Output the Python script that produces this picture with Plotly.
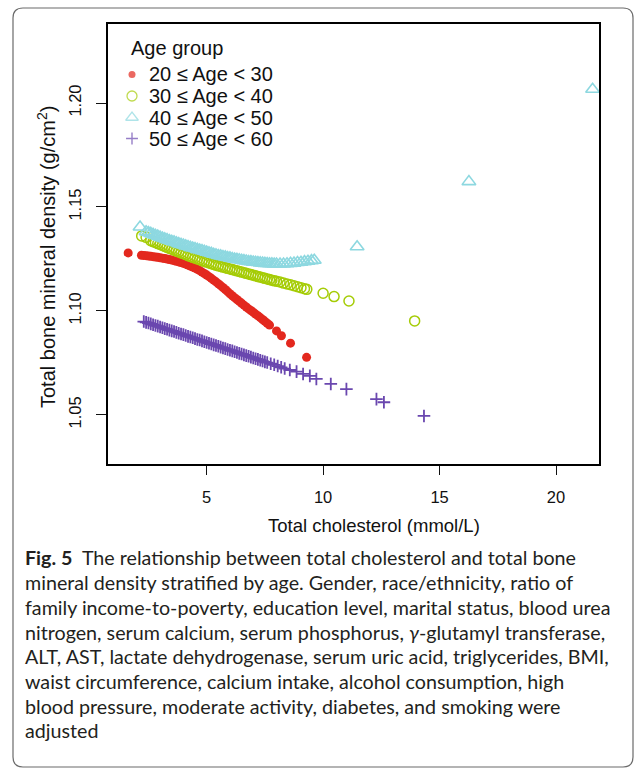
import plotly.graph_objects as go

# ---------------------------------------------------------------- data
groups = ["20 ≤ Age < 30", "30 ≤ Age < 40", "40 ≤ Age < 50", "50 ≤ Age < 60"]

red_x = [1.63, 2.20, 2.30, 2.40, 2.50, 2.60, 2.70, 2.80, 2.90, 3.00, 3.10,
         3.20, 3.30, 3.40, 3.50, 3.60, 3.70, 3.80, 3.90, 4.00, 4.10,
         4.20, 4.30, 4.40, 4.50, 4.60, 4.70, 4.80, 4.90, 5.00, 5.10,
         5.20, 5.30, 5.40, 5.50, 5.60, 5.70, 5.80, 5.90, 6.00, 6.10,
         6.20, 6.30, 6.40, 6.50, 6.60, 6.70, 6.80, 6.90, 7.00, 7.10,
         7.20, 7.30, 7.40, 7.50, 7.60, 7.70, 8.00, 8.21, 8.60, 9.29]
red_y = [1.1279, 1.1268, 1.1267, 1.1266, 1.1264, 1.1263, 1.1261, 1.1259, 1.1258, 1.1256, 1.1254,
         1.1252, 1.1250, 1.1247, 1.1245, 1.1242, 1.1239, 1.1236, 1.1233, 1.1229, 1.1225,
         1.1221, 1.1216, 1.1211, 1.1206, 1.1200, 1.1194, 1.1187, 1.1180, 1.1173, 1.1165,
         1.1157, 1.1148, 1.1140, 1.1131, 1.1122, 1.1113, 1.1103, 1.1093, 1.1083, 1.1073,
         1.1064, 1.1055, 1.1046, 1.1037, 1.1028, 1.1019, 1.1010, 1.1002, 1.0994, 1.0985,
         1.0977, 1.0968, 1.0959, 1.0950, 1.0941, 1.0932, 1.0904, 1.0881, 1.0845, 1.0777]

green_x = [2.21, 2.40,
           2.60, 2.70, 2.80, 2.90, 3.00, 3.10, 3.20, 3.30, 3.40, 3.50,
           3.60, 3.70, 3.80, 3.90, 4.00, 4.10, 4.20, 4.30, 4.40, 4.50,
           4.60, 4.70, 4.80, 4.90, 5.00, 5.10, 5.20, 5.30, 5.40, 5.50,
           5.60, 5.70, 5.80, 5.90, 6.00, 6.10, 6.20, 6.30, 6.40, 6.50,
           6.60, 6.70, 6.80, 6.90, 7.00, 7.10, 7.20, 7.30, 7.40, 7.50,
           7.60, 7.70, 7.80, 7.90, 8.00,
           8.15, 8.30, 8.45, 8.60, 8.75, 8.90, 9.05, 9.20, 9.30,
           10.00, 10.47, 11.11, 13.93]
green_y = [1.1361, 1.1354,
           1.1338, 1.1333, 1.1329, 1.1324, 1.1320, 1.1315, 1.1310, 1.1306, 1.1301, 1.1297,
           1.1292, 1.1288, 1.1284, 1.1279, 1.1275, 1.1271, 1.1266, 1.1262, 1.1258, 1.1254,
           1.1250, 1.1246, 1.1242, 1.1238, 1.1235, 1.1231, 1.1227, 1.1224, 1.1220, 1.1217,
           1.1214, 1.1211, 1.1208, 1.1205, 1.1202, 1.1199, 1.1196, 1.1193, 1.1190, 1.1187,
           1.1184, 1.1181, 1.1178, 1.1175, 1.1172, 1.1169, 1.1166, 1.1163, 1.1160, 1.1157,
           1.1154, 1.1151, 1.1148, 1.1145, 1.1143,
           1.1139, 1.1134, 1.1130, 1.1126, 1.1121, 1.1117, 1.1112, 1.1107, 1.1104,
           1.1085, 1.1069, 1.1048, 1.0952]

cyan_x = [2.14,
          2.40, 2.50, 2.60, 2.70, 2.80, 2.90, 3.00, 3.10, 3.20, 3.30,
          3.40, 3.50, 3.60, 3.70, 3.80, 3.90, 4.00, 4.10, 4.20, 4.30,
          4.40, 4.50, 4.60, 4.70, 4.80, 4.90, 5.00, 5.10, 5.20, 5.30,
          5.40, 5.50, 5.60, 5.70, 5.80, 5.90, 6.00, 6.10, 6.20, 6.30,
          6.40, 6.50, 6.60, 6.70, 6.80, 6.90, 7.00, 7.10, 7.20, 7.30,
          7.40, 7.50, 7.60, 7.70, 7.80, 7.90, 8.00,
          8.15, 8.30, 8.45, 8.60, 8.75, 8.90, 9.05, 9.20, 9.35, 9.50, 9.62,
          11.46, 16.26, 21.57]
cyan_y = [1.1404,
          1.1381, 1.1377, 1.1373, 1.1368, 1.1364, 1.1360, 1.1355, 1.1351, 1.1347, 1.1343,
          1.1339, 1.1335, 1.1332, 1.1328, 1.1324, 1.1320, 1.1317, 1.1313, 1.1310, 1.1306,
          1.1303, 1.1300, 1.1296, 1.1293, 1.1290, 1.1287, 1.1283, 1.1280, 1.1277, 1.1273,
          1.1270, 1.1267, 1.1265, 1.1262, 1.1260, 1.1257, 1.1255, 1.1252, 1.1250, 1.1248,
          1.1246, 1.1244, 1.1242, 1.1240, 1.1238, 1.1237, 1.1235, 1.1234, 1.1233, 1.1231,
          1.1230, 1.1229, 1.1228, 1.1227, 1.1227, 1.1226, 1.1226,
          1.1226, 1.1226, 1.1227, 1.1229, 1.1230, 1.1233, 1.1234, 1.1237, 1.1239, 1.1242, 1.1244,
          1.1309, 1.1622, 1.2066]

purple_x = [2.30, 2.40, 2.50, 2.60, 2.70, 2.80, 2.90, 3.00, 3.10, 3.20,
            3.30, 3.40, 3.50, 3.60, 3.70, 3.80, 3.90, 4.00, 4.10, 4.20,
            4.30, 4.40, 4.50, 4.60, 4.70, 4.80, 4.90, 5.00, 5.10, 5.20,
            5.30, 5.40, 5.50, 5.60, 5.70, 5.80, 5.90, 6.00, 6.10, 6.20,
            6.30, 6.40, 6.50, 6.60, 6.70, 6.80, 6.90, 7.00, 7.10, 7.20,
            7.30, 7.40, 7.50, 7.60,
            7.75, 7.90, 8.05, 8.20, 8.35, 8.57, 8.86, 9.14, 9.43, 9.71,
            10.33, 11.00, 12.29, 12.61, 14.33]
purple_y = [1.0949, 1.0945, 1.0942, 1.0938, 1.0934, 1.0930, 1.0927, 1.0923, 1.0919, 1.0915,
            1.0912, 1.0908, 1.0904, 1.0901, 1.0897, 1.0893, 1.0889, 1.0886, 1.0882, 1.0878,
            1.0875, 1.0871, 1.0867, 1.0863, 1.0860, 1.0856, 1.0852, 1.0848, 1.0845, 1.0841,
            1.0837, 1.0834, 1.0830, 1.0826, 1.0822, 1.0819, 1.0815, 1.0811, 1.0808, 1.0804,
            1.0800, 1.0796, 1.0793, 1.0789, 1.0785, 1.0782, 1.0778, 1.0774, 1.0770, 1.0767,
            1.0763, 1.0759, 1.0755, 1.0752,
            1.0746, 1.0741, 1.0735, 1.0729, 1.0723, 1.0716, 1.0708, 1.0697, 1.0688, 1.0673,
            1.0649, 1.0624, 1.0576, 1.0561, 1.0495]

x_ticks = [5, 10, 15, 20]
y_ticks = [1.05, 1.10, 1.15, 1.20]
y_tick_labels = ["1.05", "1.10", "1.15", "1.20"]

caption_lines = [
    "<b>Fig. 5</b>\u00a0\u00a0The relationship between total cholesterol and total bone",
    "mineral density stratified by age. Gender, race/ethnicity, ratio of",
    "family income-to-poverty, education level, marital status, blood urea",
    "nitrogen, serum calcium, serum phosphorus, <i>γ</i>-glutamyl transferase,",
    "ALT, AST, lactate dehydrogenase, serum uric acid, triglycerides, BMI,",
    "waist circumference, calcium intake, alcohol consumption, high",
    "blood pressure, moderate activity, diabetes, and smoking were",
    "adjusted",
]

# ---------------------------------------------------------------- styles
W, H = 637, 772
L, R, T, B = 108, 599, 24, 464          # plot box (px)
CHART_FONT = "Liberation Sans"
CAP_FONT = "Lato"
INK = "#111111"

styles = [
    dict(symbol="circle", size=9, color="#E3281E", line=dict(width=0, color="#E3281E")),
    dict(symbol="circle-open", size=10, color="#A5CC06", line=dict(width=1.5, color="#A5CC06")),
    dict(symbol="triangle-up-open", size=12, color="#8DD8E0", line=dict(width=1.6, color="#8DD8E0")),
    dict(symbol="cross-thin-open", size=9, color="#6A47AF", line=dict(width=1.8, color="#6A47AF")),
]
series = [(red_x, red_y), (green_x, green_y), (cyan_x, cyan_y), (purple_x, purple_y)]


def px2x(px):
    return (px - L) / (R - L)


def px2y(py):
    return (B - py) / (B - T)


fig = go.Figure()
for name, (xs, ys), st in zip(groups, series, styles):
    fig.add_trace(go.Scatter(x=xs, y=ys, mode="markers", name=name,
                             marker=st, showlegend=False, hoverinfo="x+y"))

# legend keys on an overlay axis in plot-fraction units
key_rows = [74.5, 96, 117.5, 138.5]
key_sizes = [7, 10, 11, 8.5]
key_widths = [0, 1.3, 1.3, 1.4]
fig.add_trace(go.Scatter(
    x=[px2x(132)] * 4, y=[px2y(r) for r in key_rows],
    mode="markers", xaxis="x2", yaxis="y2", showlegend=False, hoverinfo="skip",
    marker=dict(symbol=[s["symbol"] for s in styles], size=key_sizes,
                color=[s["color"] for s in styles],
                line=dict(width=key_widths, color=[s["color"] for s in styles]))))

annotations = []
annotations.append(dict(text="Age group", x=px2x(129), y=px2y(48), xref="paper", yref="paper",
                        xanchor="left", yanchor="middle", showarrow=False,
                        font=dict(family=CHART_FONT, size=20, color=INK)))
for name, r in zip(groups, key_rows):
    annotations.append(dict(text=name, x=px2x(147), y=px2y(r), xref="paper", yref="paper",
                            xanchor="left", yanchor="middle", showarrow=False,
                            font=dict(family=CHART_FONT, size=20, color=INK)))

# axis titles
annotations.append(dict(text="Total cholesterol (mmol/L)", x=px2x(374), y=px2y(525),
                        xref="paper", yref="paper", xanchor="center", yanchor="middle",
                        showarrow=False, font=dict(family=CHART_FONT, size=18.5, color=INK)))
annotations.append(dict(text="Total bone mineral density (g/cm<sup>2</sup>)", x=px2x(46), y=px2y(257),
                        xref="paper", yref="paper", xanchor="center", yanchor="middle",
                        textangle=-90, showarrow=False,
                        font=dict(family=CHART_FONT, size=20, color=INK)))

# caption
cap_rows = [557, 582, 607, 632, 656, 681, 706, 730]
for line, r in zip(caption_lines, cap_rows):
    annotations.append(dict(text=line, x=px2x(23), y=px2y(r), xref="paper", yref="paper",
                            xanchor="left", yanchor="middle", showarrow=False,
                            font=dict(family=CAP_FONT, size=19.7, color="#231F20")))

# rounded frame around figure and caption
fx0, fx1, fy0, fy1, rad = 13, 633, 8, 767, 10
pts = [
    ("M", fx0 + rad, fy0), ("L", fx1 - rad, fy0), ("Q", fx1, fy0, fx1, fy0 + rad),
    ("L", fx1, fy1 - rad), ("Q", fx1, fy1, fx1 - rad, fy1), ("L", fx0 + rad, fy1),
    ("Q", fx0, fy1, fx0, fy1 - rad), ("L", fx0, fy0 + rad), ("Q", fx0, fy0, fx0 + rad, fy0),
]
path = ""
for p in pts:
    cmd, coords = p[0], p[1:]
    parts = []
    for i in range(0, len(coords), 2):
        parts.append(f"{px2x(coords[i]):.5f},{px2y(coords[i + 1]):.5f}")
    path += cmd + " ".join(parts) + " "
path += "Z"

fig.update_layout(
    width=W, height=H,
    margin=dict(l=L, r=W - R, t=T, b=H - B, pad=0),
    paper_bgcolor="white", plot_bgcolor="white",
    showlegend=False,
    annotations=annotations,
    shapes=[dict(type="path", path=path, xref="paper", yref="paper",
                 line=dict(color="#6b6b6b", width=1.2), fillcolor="rgba(0,0,0,0)")],
    xaxis=dict(range=[0.764, 21.845], tickvals=x_ticks, ticks="outside", ticklen=9,
               tickwidth=1.3, tickcolor=INK, showgrid=False, zeroline=False,
               showline=True, linecolor="black", linewidth=2, mirror=True,
               ticklabelstandoff=8,
               tickfont=dict(family=CHART_FONT, size=16.5, color=INK)),
    yaxis=dict(range=[1.0264, 1.238], tickvals=y_ticks, ticktext=y_tick_labels,
               tickangle=-90, ticks="outside", ticklen=10, tickwidth=1.3, tickcolor=INK,
               showgrid=False, zeroline=False, showline=True, linecolor="black",
               linewidth=2, mirror=True, ticklabelstandoff=8,
               tickfont=dict(family=CHART_FONT, size=16.5, color=INK)),
    xaxis2=dict(overlaying="x", range=[0, 1], visible=False),
    yaxis2=dict(overlaying="y", range=[0, 1], visible=False),
)

fig.write_html("out.html")
